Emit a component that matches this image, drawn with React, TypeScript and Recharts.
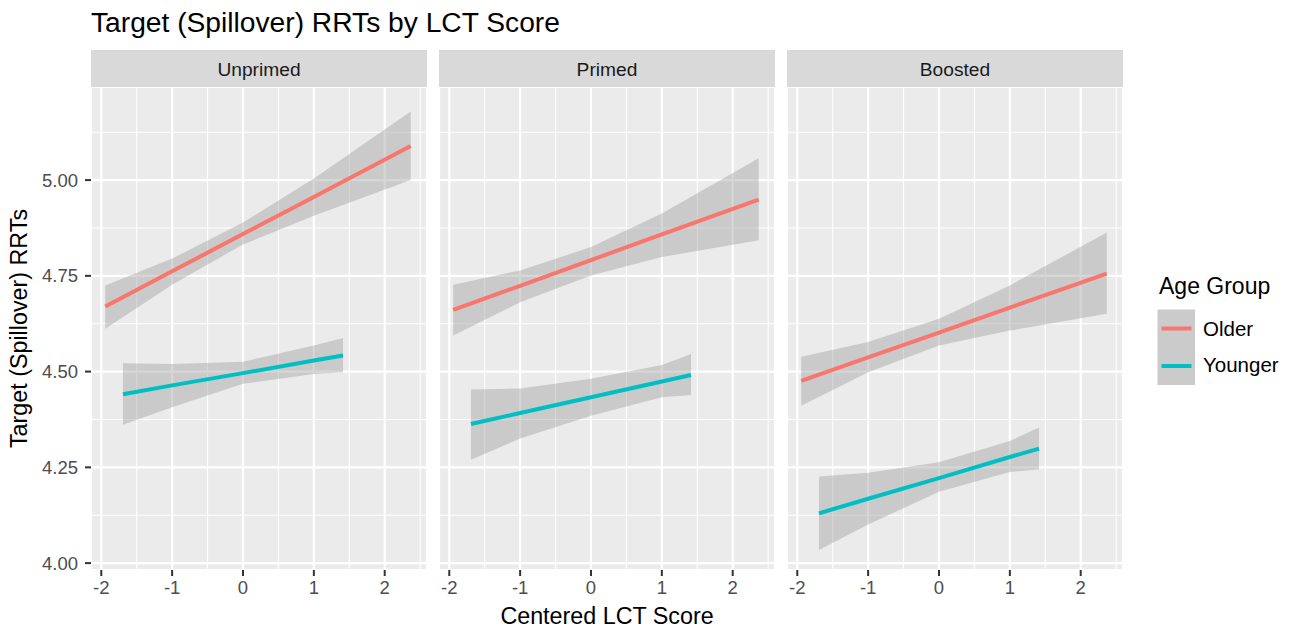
import React from 'react';
import { ComposedChart, Line, Area, XAxis, YAxis, CartesianGrid } from 'recharts';

const FONT = '"Liberation Sans", Arial, Helvetica, sans-serif';

const chartTitle = 'Target (Spillover) RRTs by LCT Score';
const xAxisTitle = 'Centered LCT Score';
const yAxisTitle = 'Target (Spillover) RRTs';
const legendTitle = 'Age Group';

const conditions = ['Unprimed', 'Primed', 'Boosted'];
const ageGroups = ['Older', 'Younger'];
const groupColors = ['#F8766D', '#00BFC4'];

const xTicks = [-2, -1, 0, 1, 2];
const xMinorTicks = [-1.5, -0.5, 0.5, 1.5, 2.5];
const yTicks = [4, 4.25, 4.5, 4.75, 5];
const yMinorTicks = [4.125, 4.375, 4.625, 4.875, 5.125];
const X_DOMAIN: [number, number] = [-2.145, 2.597];
const Y_DOMAIN: [number, number] = [3.982, 5.243];

// Centered LCT score positions at which the fits were read
const lctScores = [-1.944, -1.694, -1, 0, 1, 1.412, 2.367];

// Unprimed
const olderFitUnprimed = [4.670, null, 4.762, 4.859, 4.956, null, 5.089];
const olderLowUnprimed = [4.612, null, 4.727, 4.832, 4.907, null, 5.000];
const olderHighUnprimed = [4.725, null, 4.795, 4.889, 5.004, null, 5.179];
const youngerFitUnprimed = [null, 4.441, 4.464, 4.496, 4.529, 4.542, null];
const youngerLowUnprimed = [null, 4.361, 4.407, 4.468, 4.494, 4.498, null];
const youngerHighUnprimed = [null, 4.522, 4.520, 4.526, 4.568, 4.588, null];

// Primed
const olderFitPrimed = [4.661, null, 4.724, 4.791, 4.858, null, 4.949];
const olderLowPrimed = [4.594, null, 4.681, 4.751, 4.799, null, 4.843];
const olderHighPrimed = [4.727, null, 4.764, 4.825, 4.913, null, 5.057];
const youngerFitPrimed = [null, 4.363, 4.392, 4.433, 4.474, 4.491, null];
const youngerLowPrimed = [null, 4.270, 4.325, 4.385, 4.433, 4.439, null];
const youngerHighPrimed = [null, 4.453, 4.456, 4.481, 4.517, 4.546, null];

// Boosted
const olderFitBoosted = [4.476, null, 4.537, 4.602, 4.667, null, 4.756];
const olderLowBoosted = [4.411, null, 4.498, 4.568, 4.607, null, 4.651];
const olderHighBoosted = [4.539, null, 4.577, 4.638, 4.725, null, 4.863];
const youngerFitBoosted = [null, 4.130, 4.168, 4.222, 4.277, 4.299, null];
const youngerLowBoosted = [null, 4.034, 4.101, 4.186, 4.238, 4.245, null];
const youngerHighBoosted = [null, 4.226, 4.236, 4.263, 4.319, 4.354, null];

type N = number | null;
function buildRows(of: N[], ol: N[], oh: N[], yf: N[], yl: N[], yh: N[]) {
  return lctScores.map((x, i) => ({
    x,
    olderFit: of[i],
    olderBand: ol[i] != null && oh[i] != null ? [ol[i], oh[i]] : null,
    youngerFit: yf[i],
    youngerBand: yl[i] != null && yh[i] != null ? [yl[i], yh[i]] : null,
  }));
}

const panelRows = [
  buildRows(olderFitUnprimed, olderLowUnprimed, olderHighUnprimed, youngerFitUnprimed, youngerLowUnprimed, youngerHighUnprimed),
  buildRows(olderFitPrimed, olderLowPrimed, olderHighPrimed, youngerFitPrimed, youngerLowPrimed, youngerHighPrimed),
  buildRows(olderFitBoosted, olderLowBoosted, olderHighBoosted, youngerFitBoosted, youngerLowBoosted, youngerHighBoosted),
];

const PANEL_W = 336;
const PANEL_H = 483;
const PANEL_TOP = 87;
const PANEL_LEFTS = [91, 439, 787];
const Y_AXIS_W = 91;
const X_AXIS_H = 40;

function Panel({ rows, index }: { rows: any[]; index: number }) {
  const showY = index === 0;
  const width = showY ? Y_AXIS_W + PANEL_W : PANEL_W;
  const left = showY ? PANEL_LEFTS[0] - Y_AXIS_W : PANEL_LEFTS[index];
  return (
    <div style={{ position: 'absolute', left, top: PANEL_TOP }}>
      <ComposedChart
        width={width}
        height={PANEL_H + X_AXIS_H}
        data={rows}
        margin={{ top: 0, right: 0, bottom: 0, left: 0 }}
      >
        <XAxis
          xAxisId="major"
          dataKey="x"
          type="number"
          domain={X_DOMAIN}
          allowDataOverflow
          ticks={xTicks}
          interval={0}
          height={X_AXIS_H}
          tickSize={6}
          tickMargin={5}
          axisLine={false}
          tickLine={{ stroke: '#333333', strokeWidth: 2 }}
          tick={{ fill: '#4D4D4D', fontSize: 18.5, fontFamily: FONT }}
        />
        <XAxis
          xAxisId="minor"
          dataKey="x"
          type="number"
          domain={X_DOMAIN}
          allowDataOverflow
          ticks={xMinorTicks}
          interval={0}
          hide
        />
        <YAxis
          yAxisId="major"
          type="number"
          domain={Y_DOMAIN}
          allowDataOverflow
          ticks={yTicks}
          interval={0}
          width={Y_AXIS_W}
          hide={!showY}
          tickFormatter={(v: number) => v.toFixed(2)}
          tickSize={6}
          tickMargin={7}
          axisLine={false}
          tickLine={{ stroke: '#333333', strokeWidth: 2 }}
          tick={{ fill: '#4D4D4D', fontSize: 18.5, fontFamily: FONT }}
        />
        <YAxis
          yAxisId="minor"
          type="number"
          domain={Y_DOMAIN}
          allowDataOverflow
          ticks={yMinorTicks}
          interval={0}
          hide
        />
        <CartesianGrid xAxisId="major" yAxisId="major" fill="#EBEBEB" stroke="#FFFFFF" strokeWidth={2.2} />
        <CartesianGrid xAxisId="minor" yAxisId="minor" fill="none" stroke="#FFFFFF" strokeWidth={1.1} />
        <Area
          xAxisId="major"
          yAxisId="major"
          type="linear"
          dataKey="olderBand"
          stroke="none"
          fill="#999999"
          fillOpacity={0.4}
          connectNulls
          isAnimationActive={false}
        />
        <Area
          xAxisId="major"
          yAxisId="major"
          type="linear"
          dataKey="youngerBand"
          stroke="none"
          fill="#999999"
          fillOpacity={0.4}
          connectNulls
          isAnimationActive={false}
        />
        <Line
          xAxisId="major"
          yAxisId="major"
          type="linear"
          dataKey="olderFit"
          stroke={groupColors[0]}
          strokeWidth={4}
          dot={false}
          connectNulls
          isAnimationActive={false}
        />
        <Line
          xAxisId="major"
          yAxisId="major"
          type="linear"
          dataKey="youngerFit"
          stroke={groupColors[1]}
          strokeWidth={4}
          dot={false}
          connectNulls
          isAnimationActive={false}
        />
      </ComposedChart>
    </div>
  );
}

export default function App() {
  const plotCenterX = (PANEL_LEFTS[0] + PANEL_LEFTS[2] + PANEL_W) / 2;
  const plotCenterY = PANEL_TOP + PANEL_H / 2;
  return (
    <div
      style={{
        position: 'absolute',
        left: 0,
        top: 0,
        width: 1294,
        height: 630,
        background: '#FFFFFF',
        fontFamily: FONT,
        overflow: 'hidden',
      }}
    >
      <svg width={1294} height={630} style={{ position: 'absolute', left: 0, top: 0 }} fontFamily={FONT}>
        <text x={91} y={31.5} fontSize={28.2} fill="#000000">{chartTitle}</text>
        <text
          x={27}
          y={plotCenterY}
          fontSize={23.3}
          fill="#000000"
          textAnchor="middle"
          transform={`rotate(-90 27 ${plotCenterY})`}
        >
          {yAxisTitle}
        </text>
        <text x={plotCenterX} y={624} fontSize={23.3} fill="#000000" textAnchor="middle">{xAxisTitle}</text>
        {conditions.map((c, i) => (
          <g key={c}>
            <rect x={PANEL_LEFTS[i]} y={50} width={PANEL_W} height={37} fill="#D9D9D9" />
            <text x={PANEL_LEFTS[i] + PANEL_W / 2} y={76} fontSize={19.2} fill="#1A1A1A" textAnchor="middle">{c}</text>
          </g>
        ))}
        <text x={1159} y={293.5} fontSize={23} fill="#000000">{legendTitle}</text>
        <rect x={1157.5} y={309.5} width={37.5} height={75.5} fill="#CBCBCB" />
        {ageGroups.map((g, i) => (
          <g key={g}>
            <line x1={1161.5} x2={1191.5} y1={328.5 + i * 37.5} y2={328.5 + i * 37.5} stroke={groupColors[i]} strokeWidth={4} />
            <text x={1203} y={336 + i * 36} fontSize={20.5} fill="#000000">{g}</text>
          </g>
        ))}
      </svg>
      {panelRows.map((rows, i) => (
        <Panel key={conditions[i]} rows={rows} index={i} />
      ))}
    </div>
  );
}
